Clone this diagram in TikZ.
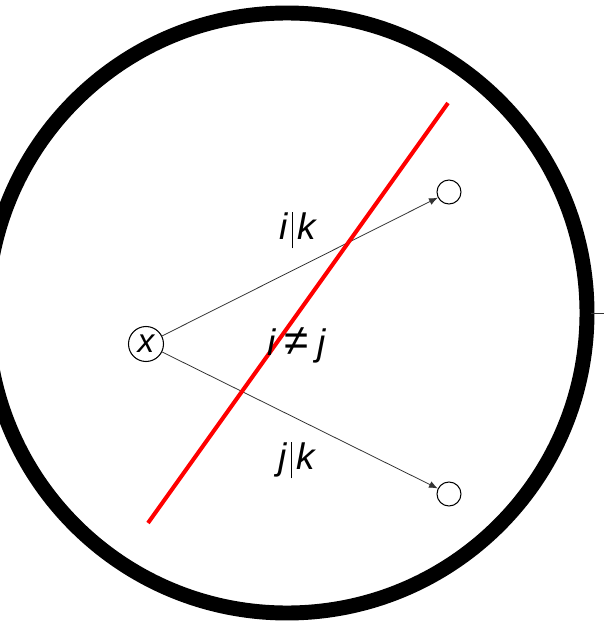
\documentclass[tikz,border=0pt]{standalone}
\usepackage{fontspec}
\setmainfont{Liberation Sans}
\usepackage{xcolor}
\usetikzlibrary{arrows.meta}
\definecolor{ringink}{HTML}{000000}
\definecolor{edgeink}{HTML}{333333}
\definecolor{cutred}{HTML}{FF0000}

\begin{document}
\begin{tikzpicture}[
  x=0.02cm,
  y=0.02cm,
  every node/.style={font=\fontsize{21}{24}\selectfont\itshape},
  vertex/.style={draw, circle, line width=0.6pt, inner sep=0pt, minimum size=0.48cm},
  source/.style={draw, circle, line width=0.6pt, inner sep=0pt, minimum size=0.7cm,
    font=\fontsize{19}{22}\selectfont\itshape},
  arc/.style={edgeink, line width=0.45pt, -{Latex[length=5pt,width=4pt]}}
]
  \def\ring{(287,314) circle (300)}
  \def\sep{\kern2.5pt\rule[-5pt]{0.6pt}{21pt}\kern2.5pt}

  \useasboundingbox (0,0) rectangle (604,627);

  \draw[ringink, line width=8.5pt] \ring;
  \draw[edgeink, line width=0.5pt] (591,314) -- (604,314);

  \node[source] (x) at (146,283) {x};
  \node[vertex] (top) at (449,435) {};
  \node[vertex] (bot) at (449,133) {};

  \draw[arc] (x) -- (top);
  \draw[arc] (x) -- (bot);

  \coordinate (cutA) at (148,104);
  \coordinate (cutB) at (448,524);
  \draw[cutred, line width=2.3pt] (cutA) -- (cutB);

  \node (ik) at (298,397) {i\sep k};
  \node (neq) at (297,282) {i\hspace{5pt}{\upshape\fontsize{25}{24}\selectfont ≠}\hspace{5pt}j};
  \node (jk) at (297,167) {j\sep k};
\end{tikzpicture}
\end{document}
